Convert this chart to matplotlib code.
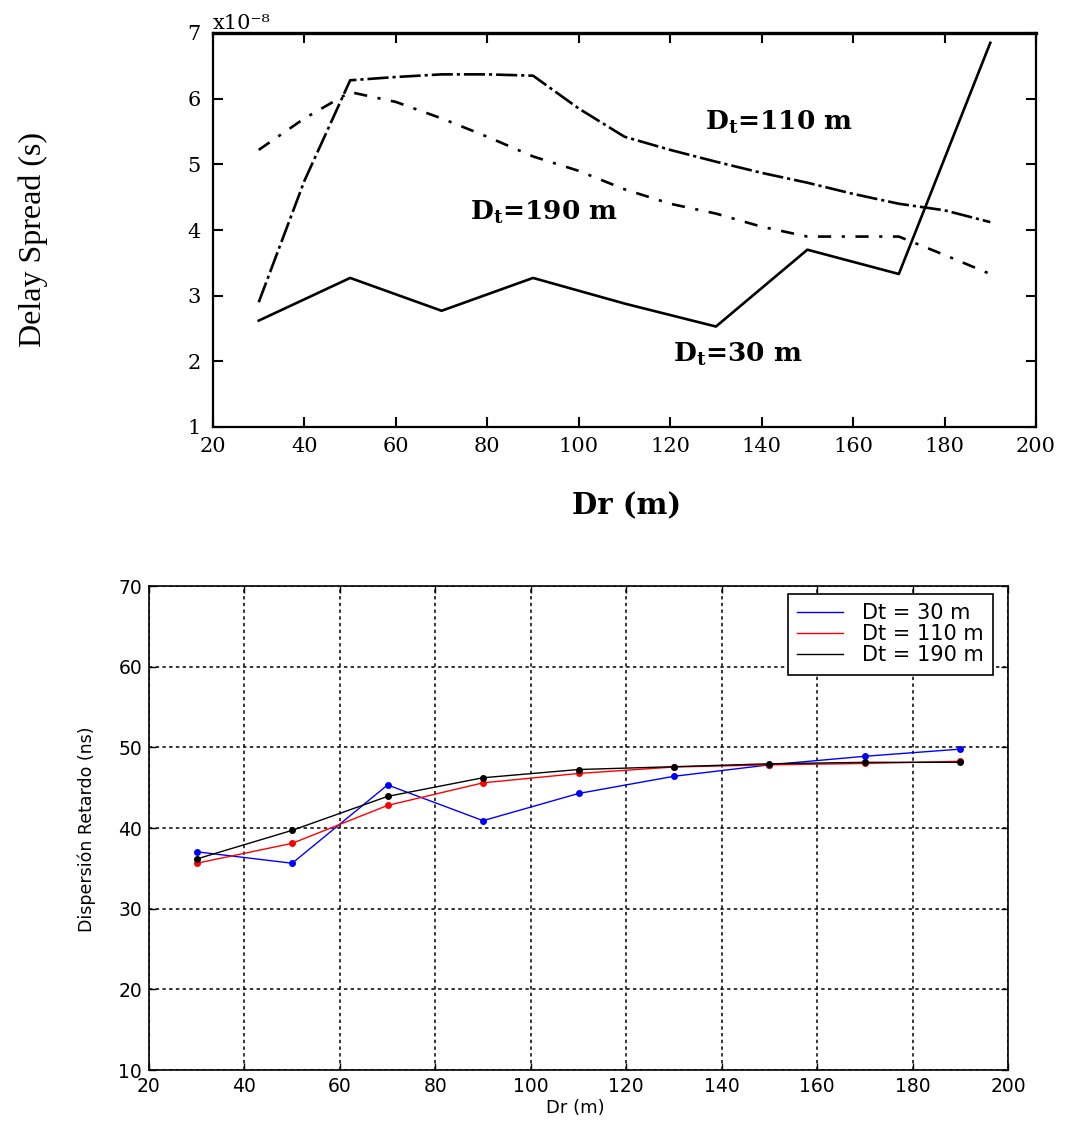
import matplotlib
matplotlib.use("Agg")
import matplotlib.pyplot as plt
from matplotlib.lines import Line2D

# Gráfico superior (valores en unidades de 1e-8 s)
dr_top_30 = [30, 50, 70, 90, 110, 130, 150, 170, 190]
ds_top_30 = [2.62, 3.27, 2.77, 3.27, 2.88, 2.53, 3.70, 3.33, 6.85]

dr_top = [30, 40, 50, 60, 70, 80, 90, 100, 110, 120, 130, 140, 150, 160, 170, 180, 190]
ds_top_110 = [2.9, 4.75, 6.28, 6.33, 6.37, 6.37, 6.35, 5.85, 5.42, 5.22, 5.04, 4.87, 4.72, 4.55, 4.4, 4.3, 4.12]
ds_top_190 = [5.22, 5.7, 6.1, 5.95, 5.7, 5.42, 5.12, 4.9, 4.62, 4.4, 4.25, 4.05, 3.9, 3.9, 3.9, 3.62, 3.33]

# Gráfico inferior (ns)
dr = [30, 50, 70, 90, 110, 130, 150, 170, 190]
disp_30 = [37.05, 35.63, 45.34, 40.91, 44.28, 46.41, 47.83, 48.89, 49.78]
disp_110 = [35.63, 38.1, 42.8, 45.6, 46.76, 47.56, 47.83, 48.0, 48.27]
disp_190 = [36.16, 39.71, 43.92, 46.23, 47.25, 47.6, 47.96, 48.14, 48.14]

legend_labels = ["Dt = 30 m", "Dt = 110 m", "Dt = 190 m"]
x_ticks = list(range(20, 201, 20))

plt.rcParams["mathtext.fontset"] = "dejavuserif"

fig = plt.figure(figsize=(10.67, 11.21), dpi=100)

# ---- gráfico superior ----
ax1 = fig.add_axes([213 / 1067, 1 - 427 / 1121, 823 / 1067, 394 / 1121])
ax1.plot(dr_top_30, ds_top_30, color="black", linewidth=1.9)
ax1.plot(dr_top, ds_top_110, color="black", linewidth=1.9, dashes=(8, 1.5, 1.2, 1.5))
ax1.plot(dr_top, ds_top_190, color="black", linewidth=1.9, dashes=(5, 4, 1.2, 4))

ax1.set_xlim(20, 200)
ax1.set_ylim(1, 7)
ax1.set_xticks(x_ticks)
ax1.set_yticks(range(1, 8))
serif = "DejaVu Serif"
for lab in ax1.get_xticklabels() + ax1.get_yticklabels():
    lab.set_family(serif)
    lab.set_fontsize(15)
ax1.tick_params(direction="in", length=7, width=1.5, top=True, right=True)
ax1.tick_params(axis="y", pad=9)
ax1.tick_params(axis="x", pad=7)
for sp in ax1.spines.values():
    sp.set_linewidth(1.6)
ax1.spines["top"].set_linewidth(2.4)

ax1.set_ylabel("Delay Spread (s)", family="Liberation Serif", fontsize=23)
ax1.yaxis.set_label_coords(-0.2, 0.475)
ax1.set_xlabel("Dr (m)", family=serif, fontsize=21, fontweight="bold")
ax1.xaxis.set_label_coords(0.503, -0.163)
ax1.text(0.0, 1.0, "x10⁻⁸", transform=ax1.transAxes, ha="left", va="bottom",
         family=serif, fontsize=15)

ax1.text(127.6, 5.52, r"D$_\mathbf{t}$=110 m", family=serif, fontsize=19,
         fontweight="bold", va="baseline")
ax1.text(76.2, 4.15, r"D$_\mathbf{t}$=190 m", family=serif, fontsize=19,
         fontweight="bold", va="baseline")
ax1.text(120.6, 1.99, r"D$_\mathbf{t}$=30 m", family=serif, fontsize=19,
         fontweight="bold", va="baseline")

# ---- gráfico inferior ----
ax2 = fig.add_axes([149 / 1067, 1 - 1070 / 1121, 859 / 1067, 484 / 1121])
colors = ["blue", "red", "black"]
for y, c in zip([disp_30, disp_110, disp_190], colors):
    ax2.plot(dr, y, color=c, linewidth=1.0, marker=".", markersize=8)

ax2.set_xlim(20, 200)
ax2.set_ylim(10, 70)
ax2.set_xticks(x_ticks)
ax2.set_yticks(range(10, 71, 10))
ax2.set_axisbelow(True)
ax2.grid(True, color="black", linestyle=(0, (2.2, 2.2)), linewidth=1.1)
ax2.tick_params(direction="in", length=5, width=1.0, top=True, right=True,
                labelsize=13.5, pad=5)
for sp in ax2.spines.values():
    sp.set_linewidth(1.2)

ax2.set_xlabel("Dr (m)", fontsize=13)
ax2.xaxis.set_label_coords(0.496, -0.06)
ax2.set_ylabel("Dispersión Retardo (ns)", fontsize=12.5)
ax2.yaxis.set_label_coords(-0.062, 0.498)

handles = [Line2D([0], [0], color=c, linewidth=1.0) for c in colors]
leg = ax2.legend(handles, legend_labels, loc="upper right",
                 bbox_to_anchor=(0.9825, 0.9835), borderaxespad=0,
                 fontsize=15, fancybox=False, framealpha=1,
                 edgecolor="black", handlelength=2.2, labelspacing=0.05,
                 handletextpad=0.9, borderpad=0.45)
leg.get_frame().set_linewidth(1.2)

fig.savefig("out.png", dpi=100)
